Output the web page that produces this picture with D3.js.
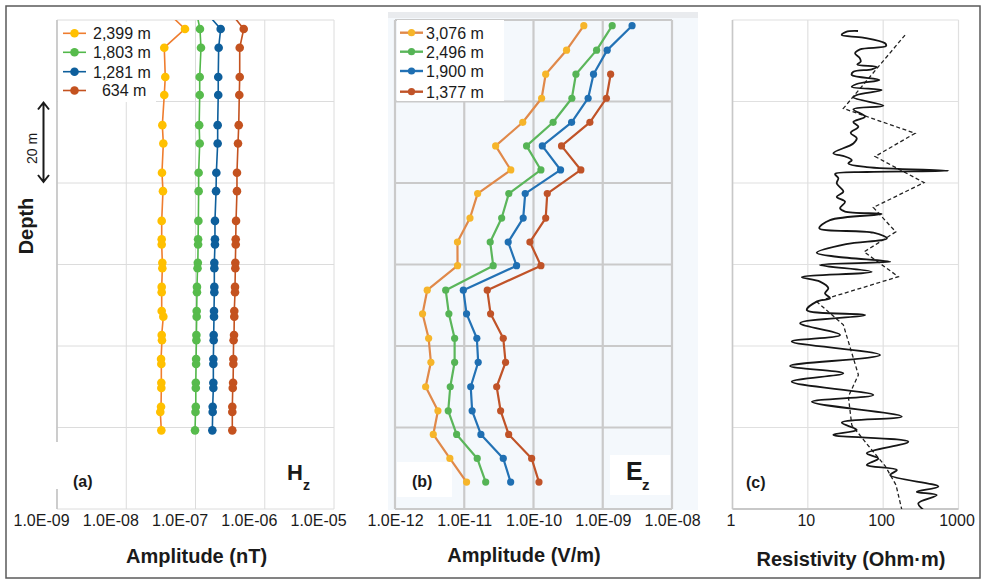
<!DOCTYPE html>
<html><head><meta charset="utf-8">
<script src="https://cdn.jsdelivr.net/npm/d3@7"></script>
<style>
html,body{margin:0;padding:0;background:#fff;}
svg{display:block;font-family:"Liberation Sans",Arial,Helvetica,sans-serif;}
</style></head><body>
<svg id="chart" width="987" height="583"></svg>
<script>
// ---------- (a) Hz amplitude profiles ----------
const depthHz = [-2, 2.2, 6.8, 14.0, 18.4, 25.8, 30.3, 37.5, 42.0, 49.3, 53.8, 55.1, 59.6, 60.9, 65.5, 66.8,
  71.4, 72.8, 77.3, 78.6, 83.2, 84.4, 89.0, 90.3, 94.9, 96.2, 100.7];
const hz2399 = [3.89e-8, 7.05e-8, 3.54e-8, 3.66e-8, 3.54e-8, 3.32e-8, 3.43e-8, 3.28e-8, 3.39e-8, 3.25e-8, 3.25e-8,
  3.25e-8, 3.32e-8, 3.32e-8, 3.25e-8, 3.25e-8, 3.25e-8, 3.43e-8, 3.25e-8, 3.28e-8, 3.18e-8, 3.21e-8, 3.21e-8,
  3.21e-8, 3.18e-8, 3.10e-8, 3.21e-8];
const hz1803 = [1.03e-7, 1.16e-7, 1.20e-7, 1.15e-7, 1.15e-7, 1.13e-7, 1.15e-7, 1.11e-7, 1.11e-7, 1.10e-7, 1.09e-7,
  1.09e-7, 1.08e-7, 1.07e-7, 1.05e-7, 1.05e-7, 1.04e-7, 1.04e-7, 1.03e-7, 1.03e-7, 1.02e-7, 1.02e-7, 1.01e-7,
  1.01e-7, 1.01e-7, 1.00e-7, 9.84e-8];
const hz1281 = [1.40e-7, 2.31e-7, 2.16e-7, 2.13e-7, 2.13e-7, 2.09e-7, 2.09e-7, 2.00e-7, 1.98e-7, 1.91e-7, 1.91e-7,
  1.91e-7, 1.87e-7, 1.87e-7, 1.87e-7, 1.87e-7, 1.85e-7, 1.85e-7, 1.83e-7, 1.83e-7, 1.81e-7, 1.81e-7, 1.81e-7,
  1.81e-7, 1.77e-7, 1.77e-7, 1.75e-7];
const hz634 = [3.14e-7, 4.97e-7, 4.35e-7, 4.35e-7, 4.29e-7, 4.21e-7, 4.11e-7, 3.97e-7, 3.97e-7, 3.85e-7, 3.81e-7,
  3.81e-7, 3.76e-7, 3.76e-7, 3.72e-7, 3.72e-7, 3.63e-7, 3.63e-7, 3.60e-7, 3.55e-7, 3.52e-7, 3.52e-7, 3.49e-7,
  3.45e-7, 3.40e-7, 3.40e-7, 3.40e-7];
const hzNames = ["2,399 m", "1,803 m", "1,281 m", "\u2007634 m"];
const hzTicks = [1e-9, 1e-8, 1e-7, 1e-6, 1e-5];
const hzTickLabels = ["1.0E-09", "1.0E-08", "1.0E-07", "1.0E-06", "1.0E-05"];

// ---------- (b) Ez amplitude profiles ----------
const depthEz = [1.4, 7.4, 13.3, 19.2, 25.1, 30.9, 36.8, 42.6, 48.6, 54.5, 60.3, 66.3, 72.1, 78.1, 84.0,
  90.0, 95.9, 101.7, 107.6, 113.4];
const ez3076 = [5.33e-10, 3.0e-10, 1.5e-10, 1.31e-10, 7.0e-11, 2.84e-11, 4.7e-11, 1.56e-11, 1.21e-11, 7.98e-12,
  8.0e-12, 2.92e-12, 2.5e-12, 3.06e-12, 3.3e-12, 2.77e-12, 4.17e-12, 3.57e-12, 6.2e-12, 1.08e-11];
const ez2496 = [1.37e-9, 8.15e-10, 4.1e-10, 3.58e-10, 1.92e-10, 7.94e-11, 1.28e-10, 4.4e-11, 3.47e-11, 2.37e-11,
  2.62e-11, 5.4e-12, 6.0e-12, 7.26e-12, 7.26e-12, 6.28e-12, 5.87e-12, 7.76e-12, 1.54e-11, 2.04e-11];
const ez1900 = [2.65e-9, 1.16e-9, 7.36e-10, 6.15e-10, 3.55e-10, 1.34e-10, 2.46e-10, 7.59e-11, 7.1e-11, 4.31e-11,
  5.7e-11, 9.7e-12, 1.08e-11, 1.52e-11, 1.59e-11, 1.24e-11, 1.3e-11, 1.74e-11, 3.66e-11, 4.68e-11];
const ez1377 = [null, null, 1.30e-9, 1.13e-9, 6.52e-10, 2.54e-10, 4.83e-10, 1.58e-10, 1.5e-10, 8.87e-11,
  1.28e-10, 2.15e-11, 2.4e-11, 3.66e-11, 3.95e-11, 2.94e-11, 3.35e-11, 4.38e-11, 9.4e-11, 1.2e-10];
const ezNames = ["3,076 m", "2,496 m", "1,900 m", "1,377 m"];
const ezTicks = [1e-12, 1e-11, 1e-10, 1e-9, 1e-8];
const ezTickLabels = ["1.0E-12", "1.0E-11", "1.0E-10", "1.0E-09", "1.0E-08"];

// ---------- (c) resistivity log and smoothed model ----------
const depthLog = [2.7, 2.9, 3.7, 4.3, 5.7, 6.4, 7.2, 8.2, 9.2, 10.2, 10.9, 11.5, 12.1, 12.7, 13.5, 14.7, 15.7,
  16.4, 17.2, 18.4, 19.0, 21.0, 21.9, 23.7, 25.0, 26.2, 27.7, 29.0, 30.3, 32.7, 33.5, 34.4, 35.2, 36.1, 37.0,
  37.3, 37.8, 38.8, 40.1, 42.1, 43.4, 44.6, 46.2, 47.0, 47.6, 49.1, 51.1, 52.2, 53.6, 55.0, 57.1, 58.1, 59.3,
  60.1, 61.8, 63.1, 64.2, 65.8, 67.1, 68.3, 69.1, 71.2, 72.4, 74.4, 77.3, 78.9, 82.2, 84.9, 86.7, 88.8, 92.0,
  93.7, 97.3, 98.8, 100.6, 101.8, 103.5, 106.3, 107.6, 109.2, 110.4, 111.7, 114.5, 115.8, 116.6, 118.6, 120.2];
const resLog = [46.4, 32.2, 28.2, 54.1, 106, 109, 49.3, 42.4, 48.3, 50.4, 45.4, 82.2, 70.6, 40.2, 38.3, 89.1, 44.6,
  38.3, 95.8, 44.6, 40.2, 100.6, 40.2, 57.5, 40.2, 46.9, 37.1, 44.6, 40.2, 21.8, 31.2, 38.3, 34.5, 60.6, 735,
  60.6, 23.0, 25.4, 24.2, 29.6, 24.2, 31.2, 26.8, 31.2, 95.8, 19.7, 14.2, 74.1, 112, 32.2, 13.1, 24.2, 124,
  14.5, 70.6, 8.3, 14.5, 18.7, 16.9, 19.7, 13.1, 9.7, 57.5, 7.9, 26.8, 6.1, 91, 5.8, 29.6, 6.1, 74.1,
  11.3, 177, 28.2, 44.6, 21.8, 216, 60.6, 86.3, 60.6, 152, 124, 541, 279, 515, 293, 342];
const depthModel = [3.7, 21.7, 27.8, 33.5, 39.9, 46.0, 52.0, 56.9, 63.0, 69.1, 74.8, 87.1, 92.4, 99.4, 105.0,
  109.4, 114.1, 120.2];
const resModel = [195, 29.6, 265, 78, 349, 74, 147, 55.8, 159, 13.1, 29.6, 46.9, 34.5, 38.3, 67, 106, 148, 177];
const resTicks = [1, 10, 100, 1000];
const resTickLabels = ["1", "10", "100", "1000"];

const depthGrid = [0, 20, 40, 60, 80, 100, 120];

// ---------- drawing ----------
const svg = d3.select("#chart");
const y = d3.scaleLinear().domain([0, 120]).range([20, 509]);

// outer frame
svg.append("rect").attr("x", 6).attr("y", 6).attr("width", 974).attr("height", 572)
  .attr("fill", "none").attr("stroke", "#5a5a5a").attr("stroke-width", 1.5);

function grid(g, x, ticks, color, width) {
  const [x0, x1] = x.range();
  g.selectAll(".vg").data(ticks).join("line").attr("class", "vg")
    .attr("x1", d => x(d)).attr("x2", d => x(d)).attr("y1", y(0)).attr("y2", y(120))
    .attr("stroke", color).attr("stroke-width", width);
  g.selectAll(".hg").data(depthGrid).join("line").attr("class", "hg")
    .attr("x1", x0).attr("x2", x1).attr("y1", d => y(d)).attr("y2", d => y(d))
    .attr("stroke", color).attr("stroke-width", width);
}

function tickAxis(g, x, ticks, labels, dx) {
  const ax = g.append("g").attr("transform", `translate(0,${y(120)})`)
    .call(d3.axisBottom(x).tickValues(ticks).tickFormat((d, i) => labels[i]).tickSize(0).tickPadding(6));
  ax.select(".domain").remove();
  ax.selectAll("text").attr("font-size", 16).attr("fill", "#1a1a1a")
    .attr("font-family", "'Liberation Sans',Arial,sans-serif").attr("dx", dx);
}

function clip(id, x) {
  const [x0, x1] = x.range();
  svg.append("clipPath").attr("id", id).append("rect")
    .attr("x", x0).attr("y", y(0)).attr("width", x1 - x0).attr("height", y(120) - y(0));
}

function profiles(g, x, depths, series, colors, lw, r, clipId) {
  const line = d3.line().defined(d => d.v != null).x(d => x(d.v)).y(d => y(d.d));
  series.forEach((vals, k) => {
    const pts = vals.map((v, i) => ({ d: depths[i], v }));
    const s = g.append("g").attr("clip-path", `url(#${clipId})`);
    s.append("path").datum(pts).attr("d", line).attr("fill", "none")
      .attr("stroke", colors[k].line).attr("stroke-width", lw).attr("stroke-linejoin", "round");
    s.selectAll("circle").data(pts.filter(p => p.v != null)).join("circle")
      .attr("cx", p => x(p.v)).attr("cy", p => y(p.d)).attr("r", r).attr("fill", colors[k].dot);
  });
}

function legend(g, x0, rows, names, colors, lw, r, len, textX) {
  names.forEach((n, k) => {
    const yy = rows[k];
    g.append("line").attr("x1", x0).attr("x2", x0 + len).attr("y1", yy).attr("y2", yy)
      .attr("stroke", colors[k].line).attr("stroke-width", lw);
    g.append("circle").attr("cx", x0 + len / 2).attr("cy", yy).attr("r", r).attr("fill", colors[k].dot);
    g.append("text").attr("x", textX).attr("y", yy + 5.8).attr("font-size", 16).attr("fill", "#1a1a1a")
      .style("white-space", "pre").text(n);
  });
}

function bold(text, x, yy, size, anchor) {
  return svg.append("text").attr("x", x).attr("y", yy).attr("font-size", size).attr("font-weight", "bold")
    .attr("fill", "#1a1a1a").attr("text-anchor", anchor || "start").text(text);
}

// ----- panel (a) -----
const xA = d3.scaleLog().domain([1e-9, 1e-5]).range([57, 334]);
const gA = svg.append("g");
grid(gA, xA, hzTicks, "#dcdcdc", 1);
gA.append("line").attr("x1", 57).attr("x2", 57).attr("y1", y(0)).attr("y2", y(120))
  .attr("stroke", "#c4c4c4").attr("stroke-width", 1.6);
gA.append("rect").attr("x", 50).attr("y", 442).attr("width", 58).attr("height", 47).attr("fill", "#fff");
gA.append("rect").attr("x", 58).attr("y", 22).attr("width", 98).attr("height", 80).attr("fill", "#fff");
clip("clipA", xA);
const colA = [
  { line: "#ef7d2f", dot: "#ffc000" },
  { line: "#52b84a", dot: "#57bb4c" },
  { line: "#0e5f9c", dot: "#0e5f9c" },
  { line: "#c4521f", dot: "#c4521f" }];
profiles(gA, xA, depthHz, [hz2399, hz1803, hz1281, hz634], colA, 1.6, 4.3, "clipA");
legend(gA, 63, [33.3, 52.3, 71.7, 90.5], hzNames, colA, 1.6, 4.3, 23, 93);
tickAxis(gA, xA, hzTicks, hzTickLabels, -16);

// ----- panel (b) -----
const xB = d3.scaleLog().domain([1e-12, 1e-8]).range([395, 672]);
const gB = svg.append("g");
gB.append("rect").attr("x", 388).attr("y", 12).attr("width", 310).attr("height", 498).attr("fill", "#f4f8fc");
gB.append("rect").attr("x", 388).attr("y", 12).attr("width", 310).attr("height", 6).attr("fill", "#e9ebee");
grid(gB, xB, ezTicks, "#cacaca", 2.2);
gB.append("rect").attr("x", 397).attr("y", 20).attr("width", 107).attr("height", 81).attr("fill", "#fff");
gB.append("rect").attr("x", 397).attr("y", 462).attr("width", 55).attr("height", 35).attr("fill", "#fff");
gB.append("rect").attr("x", 610).attr("y", 455).attr("width", 60).attr("height", 40).attr("fill", "#fff");
clip("clipB", xB);
const colB = [
  { line: "#e0894a", dot: "#f6b52a" },
  { line: "#5bb65b", dot: "#55b455" },
  { line: "#2372b5", dot: "#1f6fb2" },
  { line: "#c05328", dot: "#c05328" }];
profiles(gB, xB, depthEz, [ez3076, ez2496, ez1900, ez1377], colB, 2.2, 3.6, "clipB");
legend(gB, 400, [32.7, 51.7, 71, 91.7], ezNames, colB, 2.4, 3.6, 23, 426);
tickAxis(gB, xB, ezTicks, ezTickLabels, 0);

// ----- panel (c) -----
const xC = d3.scaleLog().domain([1, 1000]).range([732.5, 958.5]);
const gC = svg.append("g");
grid(gC, xC, resTicks, "#e0e0e0", 1.2);
gC.append("line").attr("x1", 732.5).attr("x2", 732.5).attr("y1", y(0)).attr("y2", y(120))
  .attr("stroke", "#c8c8c8").attr("stroke-width", 1.6);
gC.append("line").attr("x1", 732.5).attr("x2", 958.5).attr("y1", y(120)).attr("y2", y(120))
  .attr("stroke", "#c8c8c8").attr("stroke-width", 2);
clip("clipC", xC);
const logPts = resLog.map((v, i) => ({ d: depthLog[i], v }));
const modelPts = resModel.map((v, i) => ({ d: depthModel[i], v }));
const gCc = gC.append("g").attr("clip-path", "url(#clipC)");
gCc.append("path").datum(modelPts)
  .attr("d", d3.line().x(d => xC(d.v)).y(d => y(d.d)))
  .attr("fill", "none").attr("stroke", "#222").attr("stroke-width", 1.3).attr("stroke-dasharray", "4,2.6");
gCc.append("path").datum(logPts)
  .attr("d", d3.line().curve(d3.curveCatmullRom.alpha(0.5)).x(d => xC(d.v)).y(d => y(d.d)))
  .attr("fill", "none").attr("stroke", "#161616").attr("stroke-width", 1.8).attr("stroke-linejoin", "round");
tickAxis(gC, xC, resTicks, resTickLabels, -2);

// ----- annotations -----
bold("(a)", 73, 487, 16);
bold("(b)", 412, 487, 16);
bold("(c)", 746, 488, 16);
const hz = bold("H", 287, 480, 22);
hz.append("tspan").attr("x", 303).attr("y", 490).attr("font-size", 14).text("z");
const ez = bold("E", 626, 480, 25);
ez.append("tspan").attr("x", 642).attr("y", 490).attr("font-size", 15).text("z");

bold("Amplitude (nT)", 196.5, 563, 20, "middle");
bold("Amplitude (V/m)", 524, 562, 20, "middle");
bold("Resistivity (Ohm\u00b7m)", 851, 566, 20, "middle");

svg.append("text").attr("transform", "translate(33,226) rotate(-90)").attr("text-anchor", "middle")
  .attr("font-size", 20).attr("font-weight", "bold").attr("fill", "#1a1a1a").text("Depth");
svg.append("text").attr("transform", "translate(37,148.5) rotate(-90)").attr("text-anchor", "middle")
  .attr("font-size", 14).attr("fill", "#1a1a1a").text("20 m");

// 20 m scale arrow spanning one depth grid interval
const ax = 43.5, ay0 = y(20), ay1 = y(40);
svg.append("path")
  .attr("d", `M${ax},${ay0 + 1}V${ay1 - 1}M${ax - 5.5},${ay0 + 8}L${ax},${ay0 + 1}L${ax + 5.5},${ay0 + 8}` +
    `M${ax - 5.5},${ay1 - 8}L${ax},${ay1 - 1}L${ax + 5.5},${ay1 - 8}`)
  .attr("fill", "none").attr("stroke", "#1a1a1a").attr("stroke-width", 2);
</script></body></html>
